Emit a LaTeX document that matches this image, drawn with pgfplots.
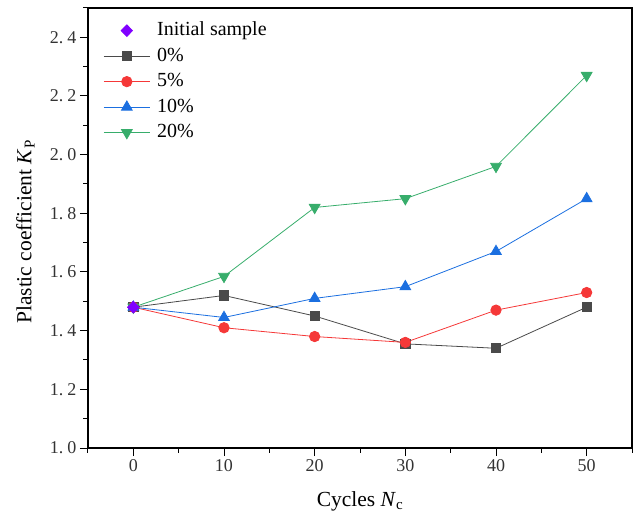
\documentclass[border=0pt]{standalone}
\usepackage{pgfplots}
\pgfplotsset{compat=1.18}
\usepackage{fontspec}
\setmainfont{Liberation Serif}
\definecolor{cGray}{HTML}{4A4A4A}
\definecolor{cRed}{HTML}{F53838}
\definecolor{cBlue}{HTML}{1B6FE0}
\definecolor{cGreen}{HTML}{37AD6B}
\definecolor{cPurple}{HTML}{8000FF}
\pgfplotsset{
    linelegend/.style={legend image code/.code={
        \draw[##1] (0pt,0pt) -- (46pt,0pt);
        \draw[##1, mark repeat=2, mark phase=2] plot coordinates {(0pt,0pt) (23pt,0pt) (46pt,0pt)};}},
    marklegend/.style={legend image code/.code={
        \draw[##1, mark repeat=2, mark phase=2] plot coordinates {(0pt,0pt) (23pt,0pt) (46pt,0pt)};}},
}
\newcommand{\tl}[2]{#1.\hspace{4pt}#2}
\begin{document}
\begin{tikzpicture}
\begin{axis}[
    scale only axis,
    width=544pt, height=440pt,
    xmin=-5, xmax=55,
    ymin=1.0, ymax=2.5,
    xtick={0,10,20,30,40,50},
    minor xtick={-5,5,15,25,35,45,55},
    ytick={1.0,1.2,1.4,1.6,1.8,2.0,2.2,2.4},
    yticklabels={\tl10,\tl12,\tl14,\tl16,\tl18,\tl20,\tl22,\tl24},
    minor ytick={1.1,1.3,1.5,1.7,1.9,2.1,2.3,2.5},
    tick label style={font=\fontsize{18}{20}\selectfont, text=black!80},
    /pgf/number format/assume math mode=true,
    tick align=outside,
    tick pos=left,
    major tick length=8pt,
    minor tick length=4.5pt,
    every tick/.style={black, line width=1pt},
    axis line style={line width=1.1pt},
    xlabel={Cycles \textit{N}\textsubscript{c}},
    ylabel={Plastic coefficient \textit{K}\textsubscript{P}},
    label style={font=\fontsize{21.5}{25}\selectfont},
    xlabel style={at={(axis description cs:0.5,-0.133)}, anchor=base},
    ylabel style={at={(axis description cs:-0.104,0.491)}, anchor=base, rotate=0},
    legend style={at={(axis description cs:0.028,0.974)}, anchor=north west, draw=none, fill=none,
        font=\fontsize{20}{24}\selectfont, row sep=3.5pt, column sep=6pt, inner sep=0pt,
        nodes={text height=15pt, text depth=5pt, inner sep=1pt}},
    legend cell align=left,
    every axis plot/.append style={line width=0.8pt},
    linelegend,
    after end axis/.code={
        \coordinate (TL) at (rel axis cs:0,1);
        \coordinate (BR) at (rel axis cs:1,0);},
]
\addplot[only marks, mark=diamond*, mark size=5.8pt, mark options={xscale=1.3}, color=cPurple, marklegend]
    coordinates {(0,1.48)};
\addlegendentry{Initial sample}
\addplot[color=cGray, mark=square*, mark size=4.6pt] coordinates {
    (0,1.48) (10,1.52) (20,1.45) (30,1.355) (40,1.34) (50,1.48)};
\addlegendentry{0\%}
\addplot[color=cRed, mark=*, mark size=5.2pt] coordinates {
    (0,1.48) (10,1.41) (20,1.38) (30,1.36) (40,1.47) (50,1.53)};
\addlegendentry{5\%}
\addplot[color=cBlue, mark=triangle*, mark size=6.2pt] coordinates {
    (0,1.48) (10,1.445) (20,1.51) (30,1.55) (40,1.67) (50,1.85)};
\addlegendentry{10\%}
\addplot[color=cGreen, mark=triangle*, mark size=6.2pt, mark options={rotate=180}] coordinates {
    (0,1.48) (10,1.585) (20,1.82) (30,1.85) (40,1.96) (50,2.27)};
\addlegendentry{20\%}
\addplot[only marks, mark=diamond*, mark size=5.8pt, mark options={xscale=1.3}, color=cPurple, forget plot]
    coordinates {(0,1.48)};
\end{axis}
\pgfresetboundingbox
\useasboundingbox ([shift={(-88pt,8pt)}]TL) rectangle ([shift={(2pt,-71pt)}]BR);
\end{tikzpicture}
\end{document}
